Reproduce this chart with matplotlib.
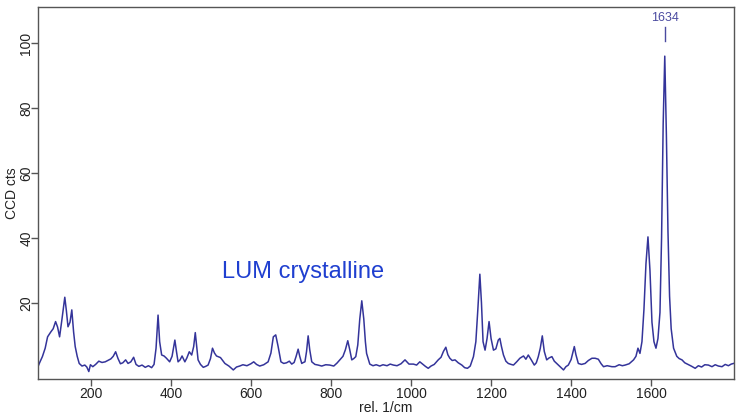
import matplotlib
matplotlib.use("Agg")
import matplotlib.pyplot as plt

plt.rcParams['font.family'] = ['Liberation Sans', 'DejaVu Sans']

# Raman shift (rel. 1/cm) and CCD counts of the LUM crystalline spectrum
wavenumber = [
    68, 72, 79, 86, 92, 100, 106, 112, 117, 122, 128, 135, 139, 143, 148, 152.5, 157, 161, 166, 171,
    178, 185, 190, 195, 199, 205, 212, 220, 228, 236, 244, 250, 256, 262, 268, 274, 280, 287, 293, 300,
    307, 313, 320, 328, 336, 344, 352, 358, 363, 368, 372, 377, 383, 389, 397, 403, 410, 414, 418, 423,
    428, 432, 435, 440, 446, 452, 457, 461, 465, 468, 474, 481, 487, 493, 499, 504, 509, 514, 524, 535,
    545, 556, 564, 572, 580, 590, 600, 607, 614, 622, 632, 643, 650, 656, 662, 668, 675, 682, 689, 696,
    702, 708, 713, 718, 722, 727, 731, 735, 739, 743, 747, 752, 760, 768, 777, 787, 797, 807, 815, 822,
    830, 836, 842, 847, 852, 857, 862, 867, 872, 877, 882, 886, 889, 897, 905, 913, 922, 930, 940, 948,
    956, 965, 975, 985, 995, 1006, 1014, 1022, 1030, 1036, 1043, 1050, 1058, 1068, 1075, 1081, 1087, 1092,
    1097, 1103, 1110, 1118, 1127, 1134, 1141, 1148, 1156, 1162, 1167, 1172, 1176, 1180, 1185, 1190, 1195,
    1200, 1206, 1212, 1218, 1222, 1226, 1231, 1237, 1243, 1250, 1256, 1264, 1272, 1281, 1287, 1293, 1300,
    1308, 1313, 1318, 1323, 1328, 1333, 1339, 1345, 1352, 1358, 1364, 1372, 1381, 1387, 1393, 1400, 1404,
    1408, 1412, 1418, 1426, 1435, 1443, 1452, 1460, 1468, 1475, 1481, 1490, 1502, 1510, 1520, 1528, 1535,
    1545, 1556, 1562, 1567, 1572, 1577, 1582, 1587, 1592, 1597, 1602, 1607, 1612, 1617, 1622, 1626, 1630,
    1634, 1638, 1642, 1646, 1650, 1656, 1664, 1670, 1677, 1684, 1692, 1700, 1710, 1718, 1726, 1734, 1743,
    1752, 1760, 1768, 1777, 1785, 1793, 1800, 1806,
]
counts = [
    0.3, 1.5, 3.4, 6.0, 9.5, 11.0, 12.0, 14.2, 12.5, 9.5, 15.0, 21.7, 17.5, 12.6, 14.0, 17.8, 11.0, 6.5, 3.5, 1.3,
    0.5, 0.8, 0.2, -1.2, 0.9, 0.3, 1.0, 2.0, 1.6, 1.8, 2.3, 2.7, 3.5, 4.9, 2.8, 1.2, 1.5, 2.4, 1.3, 1.8,
    3.2, 1.0, 0.4, 0.8, 0.1, 0.6, 0.0, 1.0, 6.0, 16.2, 8.0, 3.9, 3.6, 2.9, 1.8, 3.5, 8.5, 5.0, 1.8, 2.4,
    3.6, 2.6, 1.8, 3.0, 4.9, 3.9, 6.5, 10.8, 6.0, 2.4, 1.0, 0.1, 0.4, 0.8, 2.8, 6.0, 4.5, 3.6, 3.1, 1.3,
    0.5, -0.7, 0.2, 0.5, 0.9, 0.6, 1.2, 1.8, 1.0, 0.5, 0.9, 1.8, 4.5, 9.5, 10.1, 6.5, 1.8, 1.3, 1.5, 2.0,
    1.1, 1.6, 3.5, 5.7, 3.5, 1.3, 1.6, 1.8, 5.0, 9.8, 5.5, 1.8, 1.0, 0.8, 0.5, 0.9, 0.8, 0.5, 1.4, 2.4,
    3.5, 5.5, 8.3, 5.5, 2.4, 2.8, 3.4, 7.0, 15.0, 20.6, 15.0, 8.0, 4.4, 1.1, 0.6, 0.9, 0.5, 0.9, 0.6, 1.1,
    0.8, 0.6, 1.2, 2.4, 1.1, 1.1, 0.8, 1.8, 1.0, 0.4, -0.2, 0.5, 1.0, 2.4, 3.2, 5.0, 6.3, 4.0,
    2.9, 2.2, 2.4, 1.5, 0.8, 0.0, -0.2, 0.5, 3.4, 8.0, 18.0, 28.8, 20.0, 8.0, 5.4, 9.0, 14.2,
    9.0, 5.4, 5.8, 8.5, 9.0, 6.5, 3.9, 2.0, 1.3, 1.0, 0.8, 1.8, 2.9, 3.6, 2.6, 3.9, 2.5,
    0.8, 1.5, 3.4, 6.0, 9.8, 5.0, 2.4, 3.0, 3.4, 2.0, 1.3, 0.4, -0.7, 0.3, 0.8, 2.5, 4.5,
    6.5, 4.0, 1.3, 1.0, 1.3, 2.2, 2.9, 2.9, 2.6, 1.2, 0.3, 0.6, 0.3, 0.3, 0.9, 0.6, 0.8,
    1.2, 2.4, 3.5, 6.0, 4.4, 8.0, 18.0, 32.0, 40.3, 30.0, 14.0, 8.0, 6.0, 9.0, 17.0, 40.0, 75.0,
    96.0, 72.0, 42.0, 22.0, 12.0, 6.0, 3.5, 2.8, 2.4, 1.5, 1.0, 0.5, -0.2, 0.6, 0.2, 0.9, 0.8,
    0.3, 0.9, 0.5, 0.3, 1.0, 0.6, 1.1, 1.3,
]

x_ticks = [200, 400, 600, 800, 1000, 1200, 1400, 1600]
y_ticks = [20, 40, 60, 80, 100]
peak_label = 1634
sample_name = "LUM crystalline"

line_color = "#34349a"
axis_color = "#555555"
text_color = "#222222"

fig = plt.figure(figsize=(7.36, 4.15), dpi=100)
ax = fig.add_axes([0.0516, 0.0867, 0.9457, 0.8953])

ax.plot(wavenumber, counts, color=line_color, linewidth=1.1)

ax.set_xlim(68, 1807)
ax.set_ylim(-3.5, 111)
ax.set_xticks(x_ticks)
ax.set_yticks(y_ticks)
ax.set_yticklabels([])

for s in ax.spines.values():
    s.set_color(axis_color)
    s.set_linewidth(1.0)

ax.tick_params(direction='out', length=5, width=1, color=axis_color,
               labelsize=10, labelcolor=text_color)
ax.tick_params(axis='x', pad=1)

# vertical y tick labels placed just left of the tick marks
ylab_tf = ax.get_yaxis_transform()
for v in y_ticks:
    ax.text(-0.0065, v, str(v), transform=ylab_tf, rotation=90,
            ha='right', va='center', fontsize=10, color=text_color)

ax.text(-0.0275, 0.5, "CCD cts", transform=ax.transAxes, rotation=90,
        ha='right', va='center', fontsize=10, color=text_color)
ax.set_xlabel("rel. 1/cm", fontsize=10, color=text_color, labelpad=0)

# peak marker and label
ax.plot([peak_label, peak_label], [100.8, 105.0], color="#4a4aa0", linewidth=1.0)
ax.text(peak_label, 106.0, str(peak_label), ha='center', va='bottom',
        fontsize=9, color="#4a4aa0")

ax.text(730, 29.4, sample_name, ha='center', va='center', fontsize=17, color="#1f3fd0")

fig.savefig("out.png", dpi=100)
